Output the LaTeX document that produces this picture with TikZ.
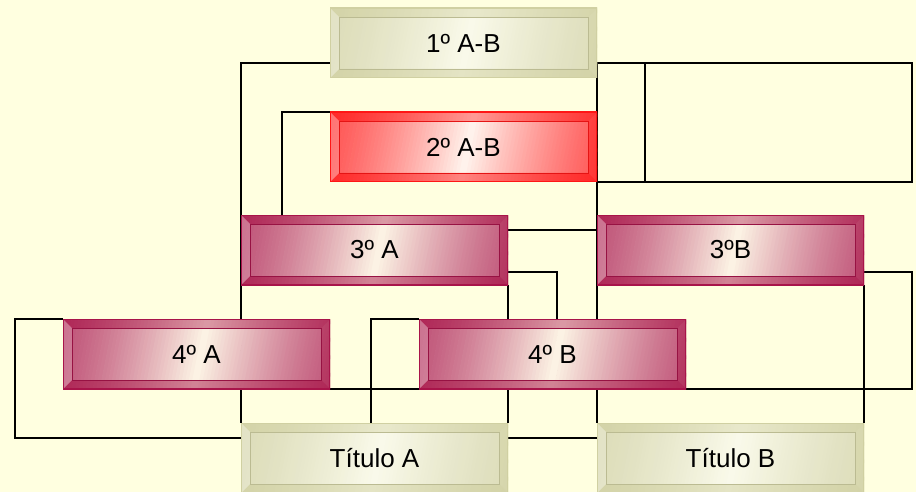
\documentclass[tikz,border=0pt]{standalone}
\usepackage{fontspec}
\setmainfont{Liberation Sans}
\usetikzlibrary{calc}
\pgfdeclarelayer{background}
\pgfsetlayers{background,main}
\definecolor{bgc}{RGB}{255,255,224}
\definecolor{khD}{RGB}{208,208,162}
\definecolor{khL}{RGB}{250,250,232}
\definecolor{rdD}{RGB}{255,22,22}
\definecolor{rdL}{RGB}{255,244,236}
\definecolor{mrD}{RGB}{168,20,74}
\definecolor{mrL}{RGB}{253,244,226}
\tikzset{
  conn/.style={draw=black, line width=1.5pt},
  bevbox/.style 2 args={minimum width=267pt, minimum height=70pt, inner sep=0pt, outer sep=0pt,
    font=\fontsize{26}{31}\selectfont, text=black,
    path picture={
      \coordinate (Q1) at (path picture bounding box.south west);
      \coordinate (Q2) at (path picture bounding box.north east);
      \coordinate (Q3) at ([shift={(9pt,9pt)}]path picture bounding box.south west);
      \coordinate (Q4) at ([shift={(-9pt,-9pt)}]path picture bounding box.north east);
      \foreach \i in {0,...,83}{
        \pgfmathsetmacro{\p}{15+85*(max(0,1-abs(\i-41.5)/42))^1.3}
        \fill[#2!\p!#1] ($(Q1)+(\i*3.5pt-16pt,0pt)$) -- ($(Q1)+(\i*3.5pt-12pt,0pt)$)
          -- ($(Q1|-Q2)+(\i*3.5pt+2pt,0pt)$) -- ($(Q1|-Q2)+(\i*3.5pt-2pt,0pt)$) -- cycle;
      }
      \fill[white, fill opacity=0.14] (Q3) rectangle (Q4);
      \fill[#1, fill opacity=0.40] (Q1|-Q2) -- (Q2) -- (Q4) -- (Q3|-Q4) -- cycle;
      \fill[#1, fill opacity=0.50] (Q1) -- (Q2|-Q1) -- (Q4|-Q3) -- (Q3) -- cycle;
      \fill[white, fill opacity=0.30] (Q1) -- (Q1|-Q2) -- (Q3|-Q4) -- (Q3) -- cycle;
      \fill[#1, fill opacity=0.20] (Q2|-Q1) -- (Q2) -- (Q4) -- (Q4|-Q3) -- cycle;
      \draw[#1!90!black, line width=0.6pt] (Q3) rectangle (Q4);
      \draw[#1, line width=1.2pt] (Q1) rectangle (Q2);
    }},
}
\begin{document}
\begin{tikzpicture}[x=1pt,y=-1pt]
\useasboundingbox (0,0) rectangle (916,492);
\node[bevbox={khD}{khL}] (b1) at (463.5,43) {1º A-B};
\node[bevbox={rdD}{rdL}] (b2) at (463.5,147) {2º A-B};
\node[bevbox={mrD}{mrL}] (b3a) at (374.5,250) {3º A};
\node[bevbox={mrD}{mrL}] (b3b) at (730.5,250) {3ºB};
\node[bevbox={mrD}{mrL}] (b4a) at (196.5,354) {4º A};
\node[bevbox={mrD}{mrL}] (b4b) at (552.5,354) {4º B};
\node[bevbox={khD}{khL}] (ta) at (374.5,458) {Título A};
\node[bevbox={khD}{khL}] (tb) at (730.5,458) {Título B};
\begin{pgfonlayer}{background}
\fill[bgc] (0,0) rectangle (916,492);
\coordinate (xL) at (15,0);
\coordinate (xC) at (282,0);
\coordinate (xM) at (557,0);
\coordinate (xR1) at (645,0);
\coordinate (xR2) at (912,0);
\coordinate (c) at ($(b3b.north west)+(0,15)$);
\coordinate (g) at ($(b3a.south east)+(0,-13)$);
% 1 -> Titulo A
\draw[conn] ($(b1.south west)+(0,-15)$) -| (ta.north west);
% Titulo A -> 4A
\draw[conn] ($(ta.north west)+(0,15)$) -| (xL |- b4a.north west) -- (b4a.north west);
% 2 -> 3B
\draw[conn] (b2.north west) -| (xC |- c) -- (c);
% 1 -> 2 (right loops)
\draw[conn] ($(b1.south east)+(0,-15)$) -| (xR1 |- b2.south east) -- (b2.south east);
\draw[conn] ($(b1.south east)+(0,-15)$) -| (xR2 |- b2.south east) -- (b2.south east);
% 1 -> Titulo B
\draw[conn] ($(b1.south east)+(0,-15)$) -- (tb.north west);
% 4A -> 3A
\draw[conn] (b4a.south east) -| (xM |- g) -- (g);
% Titulo A -> 4B
\draw[conn] ($(ta.north west)+(130,0)$) |- (b4b.north west);
% 3A -> Titulo A
\draw[conn] (b3a.south east) -- (ta.north east);
% Titulo A -> Titulo B
\draw[conn] ($(ta.north east)+(0,15)$) -- ($(tb.north west)+(0,15)$);
% 3B -> 4B
\draw[conn] ($(b3b.south east)+(0,-13)$) -| (xR2 |- b4b.south east) -- (b4b.south east);
% 3B -> Titulo B
\draw[conn] (b3b.south east) -- (tb.north east);
\end{pgfonlayer}
\end{tikzpicture}
\end{document}
